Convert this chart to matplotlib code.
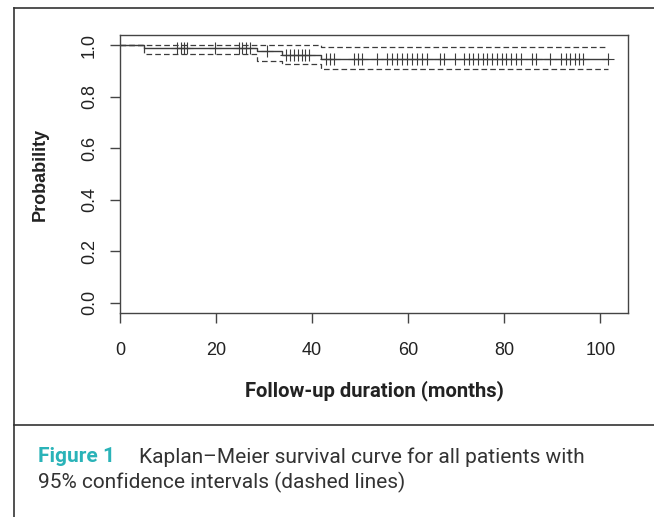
import numpy as np
import matplotlib
matplotlib.use('Agg')
import matplotlib.pyplot as plt
from matplotlib.lines import Line2D

# Kaplan-Meier estimate (step levels after each event)
event_times = [0.0, 5.0, 28.6, 33.8, 41.9]
surv = [1.0, 0.988, 0.976, 0.962, 0.948]
upper = [1.0, 1.0, 1.0, 1.0, 0.993]
lower = [1.0, 0.965, 0.939, 0.928, 0.906]
last_time = 101.7

# censoring times (the "+" marks)
censored = [11.8, 12.7, 13.3, 13.9, 19.7, 24.7, 25.5, 26.3, 27.0, 30.7,
            34.6, 35.4, 36.2, 37.0, 37.8, 38.6, 39.4, 42.9, 43.8, 44.6,
            48.8, 49.6, 50.4, 53.5, 55.6, 56.6, 57.7, 58.7, 59.8, 60.8,
            61.8, 62.9, 63.9, 66.6, 67.4, 69.7, 71.6, 72.6, 73.6, 74.6,
            75.5, 76.5, 77.5, 78.5, 79.5, 80.4, 81.4, 82.4, 83.4, 85.7,
            86.7, 89.6, 91.9, 92.8, 93.7, 94.7, 95.6, 96.5, 101.7]

x_ticks = [0, 20, 40, 60, 80, 100]
y_ticks = [0.0, 0.2, 0.4, 0.6, 0.8, 1.0]

W, H = 654, 517
fig = plt.figure(figsize=(W / 100, H / 100), dpi=100)
fig.patch.set_facecolor('white')

# plot box in pixels: left 120, right 628, top 35, bottom 313
ax = fig.add_axes([120 / W, 1 - 313 / H, (628 - 120) / W, (313 - 35) / H])

line_col = '#3c3c3c'
tx = event_times + [last_time]
ax.step(tx, surv + [surv[-1]], where='post', color=line_col, lw=1.0)
ax.step(tx, upper + [upper[-1]], where='post', color=line_col, lw=0.9,
        dashes=(4.5, 2.5))
ax.step(tx, lower + [lower[-1]], where='post', color=line_col, lw=0.9,
        dashes=(4.5, 2.5))

idx = np.searchsorted(event_times, censored, side='right') - 1
cens_y = np.array(surv)[idx]
ax.plot(censored, cens_y, linestyle='none', marker='+', markersize=8,
        markeredgewidth=0.8, color=line_col)

ax.set_xlim(0, last_time * 1.04)
ax.set_ylim(-0.04, 1.04)

for s in ax.spines.values():
    s.set_color('#444444')
    s.set_linewidth(1.0)

tick_font = ['Liberation Sans', 'DejaVu Sans']
ax.set_xticks(x_ticks)
ax.set_xticklabels([str(v) for v in x_ticks], fontsize=13, family=tick_font,
                   color='#222222')
ax.set_yticks(y_ticks)
ax.set_yticklabels(['%.1f' % v for v in y_ticks], fontsize=13, family=tick_font,
                   color='#222222', rotation=90, va='center')
ax.tick_params(length=7, width=1.0, color='#444444')
ax.tick_params(axis='x', pad=14)
ax.tick_params(axis='y', pad=9)

ax.set_ylabel('Probability', fontsize=13, fontweight='bold', family=tick_font,
              color='#222222', labelpad=23)
ax.set_xlabel('Follow-up duration (months)', fontsize=14.6, fontweight='bold',
              family=['Roboto', 'DejaVu Sans'], color='#222222',
              labelpad=15)

# frame around the figure panel and separator above the caption
frame_col = '#333333'
def px_line(x0, y0, x1, y1):
    fig.add_artist(Line2D([x0 / W, x1 / W], [1 - y0 / H, 1 - y1 / H],
                          transform=fig.transFigure, color=frame_col, lw=1.2))

px_line(14, 8, W, 8)
px_line(14, 8, 14, H)
px_line(14, 425, W, 425)

cap_font = ['Roboto', 'DejaVu Sans']
fig.text(38 / W, 1 - 457 / H, 'Figure 1', fontsize=15, fontweight='bold',
         color='#2ab3b8', family=cap_font, va='center', ha='left')
fig.text(139 / W, 1 - 457 / H, 'Kaplan\u2013Meier survival curve for all patients with',
         fontsize=15, color='#333333', family=cap_font, va='center', ha='left')
fig.text(38 / W, 1 - 482 / H, '95% confidence intervals (dashed lines)',
         fontsize=15, color='#333333', family=cap_font, va='center', ha='left')

fig.savefig('out.png', dpi=100)
